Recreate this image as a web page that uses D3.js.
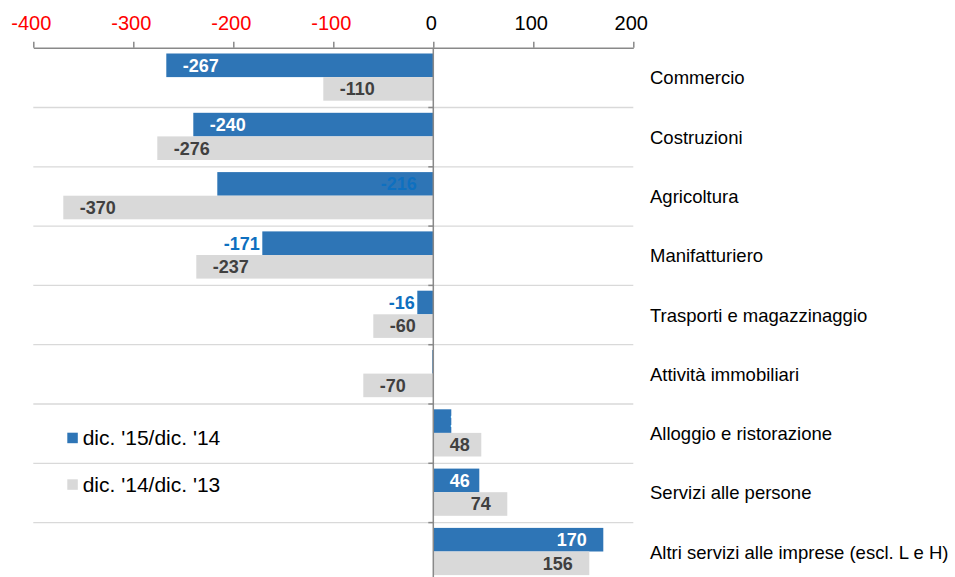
<!DOCTYPE html>
<html>
<head>
<meta charset="utf-8">
<script src="https://cdn.jsdelivr.net/npm/d3@7"></script>
<style>
  html, body { margin: 0; padding: 0; background: #fff; }
  svg { display: block; font-family: "Liberation Sans", Arial, sans-serif; }
</style>
</head>
<body>
<div id="chart"></div>
<script>
/* Variazione imprese per settore - horizontal grouped bars */
var categories = [
  'Commercio',
  'Costruzioni',
  'Agricoltura',
  'Manifatturiero',
  'Trasporti e magazzinaggio',
  'Attività immobiliari',
  'Alloggio e ristorazione',
  'Servizi alle persone',
  'Altri servizi alle imprese (escl. L e H)'
];
var seriesNames = ["dic. '15/dic. '14", "dic. '14/dic. '13"];
var values1514 = [-267, -240, -216, -171, -16, -1, 18, 46, 170];
var values1413 = [-110, -276, -370, -237, -60, -70, 48, 74, 156];
var xTicks = [-400, -300, -200, -100, 0, 100, 200];

(function() {
  var W = 955, H = 577;
  var COLORS = ['#2E75B6', '#D9D9D9'];
  var AXIS = '#898989';

  // label placement for the blue series (as in the source chart)
  var blueLabelMode = ['in', 'in', 'base', 'out', 'out', 'in', 'in', 'in', 'in'];

  var svg = d3.select('#chart').append('svg')
    .attr('width', W)
    .attr('height', H);

  var x = d3.scaleLinear().domain([-400, 200]).range([33.3, 633.3]);
  var y = d3.scaleBand().domain(categories).range([47.7, 47.7 + 9 * 59.3]).padding(0);
  var inner = d3.scaleBand().domain([0, 1]).range([5.8, 53]).padding(0);

  var rows = categories.map(function(c, i) {
    return { cat: c, vals: [values1514[i], values1413[i]], i: i };
  });

  // row separators
  svg.append('g')
    .selectAll('line')
    .data(categories.slice(1))
    .join('line')
    .attr('x1', x(-400))
    .attr('x2', x(200))
    .attr('y1', function(d) { return y(d) + 0.5; })
    .attr('y2', function(d) { return y(d) + 0.5; })
    .attr('stroke', '#D9D9D9')
    .attr('stroke-width', 1.3);

  // bars
  var group = svg.append('g')
    .selectAll('g')
    .data(rows)
    .join('g')
    .attr('transform', function(d) { return 'translate(0,' + y(d.cat) + ')'; });

  group.selectAll('rect')
    .data(function(d) { return d.vals.map(function(v, k) { return { v: v, k: k }; }); })
    .join('rect')
    .attr('x', function(d) { return x(Math.min(0, d.v)); })
    .attr('width', function(d) { return Math.abs(x(d.v) - x(0)); })
    .attr('y', function(d) { return inner(d.k); })
    .attr('height', inner.bandwidth())
    .attr('fill', function(d) { return COLORS[d.k]; });

  // data labels
  var PAD = 16.5;
  rows.forEach(function(r) {
    r.vals.forEach(function(v, k) {
      var mode = k === 0 ? blueLabelMode[r.i] : 'in';
      var color = k === 0 ? '#fff' : '#404040';
      if (mode !== 'in') color = '#0E70C0';
      var t = svg.append('text')
        .text(v)
        .attr('y', y(r.cat) + inner(k) + inner.bandwidth() / 2)
        .attr('dy', '0.35em')
        .attr('font-size', '18px')
        .attr('font-weight', 'bold')
        .attr('fill', color);
      var w = t.node().getComputedTextLength();
      var x0 = x(0), xv = x(v), left;
      if (mode === 'out') {
        left = v < 0 ? xv - 2.5 - w : xv + 2.5;
      } else if (mode === 'base') {
        left = v < 0 ? x0 - PAD - w : x0 + PAD;
      } else if (v < 0) {
        left = Math.min(xv + PAD, x0 - PAD - w);
      } else {
        left = Math.max(xv - PAD - w, x0 + PAD);
      }
      t.attr('x', left);
    });
  });

  // top axis (plain hyphen for negatives, like the source)
  var axisG = svg.append('g')
    .attr('transform', 'translate(0,' + 47.7 + ')')
    .call(d3.axisTop(x)
      .tickValues(xTicks)
      .tickFormat(function(d) { return String(d); })
      .tickSize(6)
      .tickPadding(12)
      .tickSizeOuter(0));
  axisG.select('.domain').attr('stroke', AXIS).attr('stroke-width', 1.5);
  axisG.selectAll('.tick line').attr('stroke', AXIS).attr('stroke-width', 1.5);
  axisG.selectAll('.tick text')
    .attr('font-size', '20px')
    .attr('font-family', '"Liberation Sans", Arial, sans-serif')
    .attr('dx', -2.5)
    .attr('fill', function(d) { return d < 0 ? '#FF0000' : '#000'; });

  // vertical zero axis with small ticks between rows
  svg.append('line')
    .attr('x1', x(0)).attr('x2', x(0))
    .attr('y1', 47.7).attr('y2', H)
    .attr('stroke', AXIS)
    .attr('stroke-width', 1.5);
  svg.append('g')
    .selectAll('line')
    .data(categories.slice(1))
    .join('line')
    .attr('x1', x(0) - 5)
    .attr('x2', x(0))
    .attr('y1', function(d) { return y(d) + 0.5; })
    .attr('y2', function(d) { return y(d) + 0.5; })
    .attr('stroke', AXIS)
    .attr('stroke-width', 1.5);

  // category names on the right
  svg.append('g')
    .selectAll('text')
    .data(categories)
    .join('text')
    .attr('x', 650)
    .attr('y', function(d) { return y(d) + y.bandwidth() / 2; })
    .attr('dy', '0.38em')
    .attr('font-size', '18.5px')
    .attr('fill', '#000')
    .text(function(d) { return d; });

  // legend
  var legend = svg.append('g')
    .selectAll('g')
    .data(seriesNames)
    .join('g')
    .attr('transform', function(d, i) { return 'translate(67.3,' + (432.7 + i * 46.6) + ')'; });
  legend.append('rect')
    .attr('width', 10.5)
    .attr('height', 10.5)
    .attr('fill', function(d, i) { return COLORS[i]; });
  legend.append('text')
    .attr('x', 15.4)
    .attr('y', 12.4)
    .attr('font-size', '21px')
    .attr('fill', '#000')
    .text(function(d) { return d; });
})();
</script>
</body>
</html>
